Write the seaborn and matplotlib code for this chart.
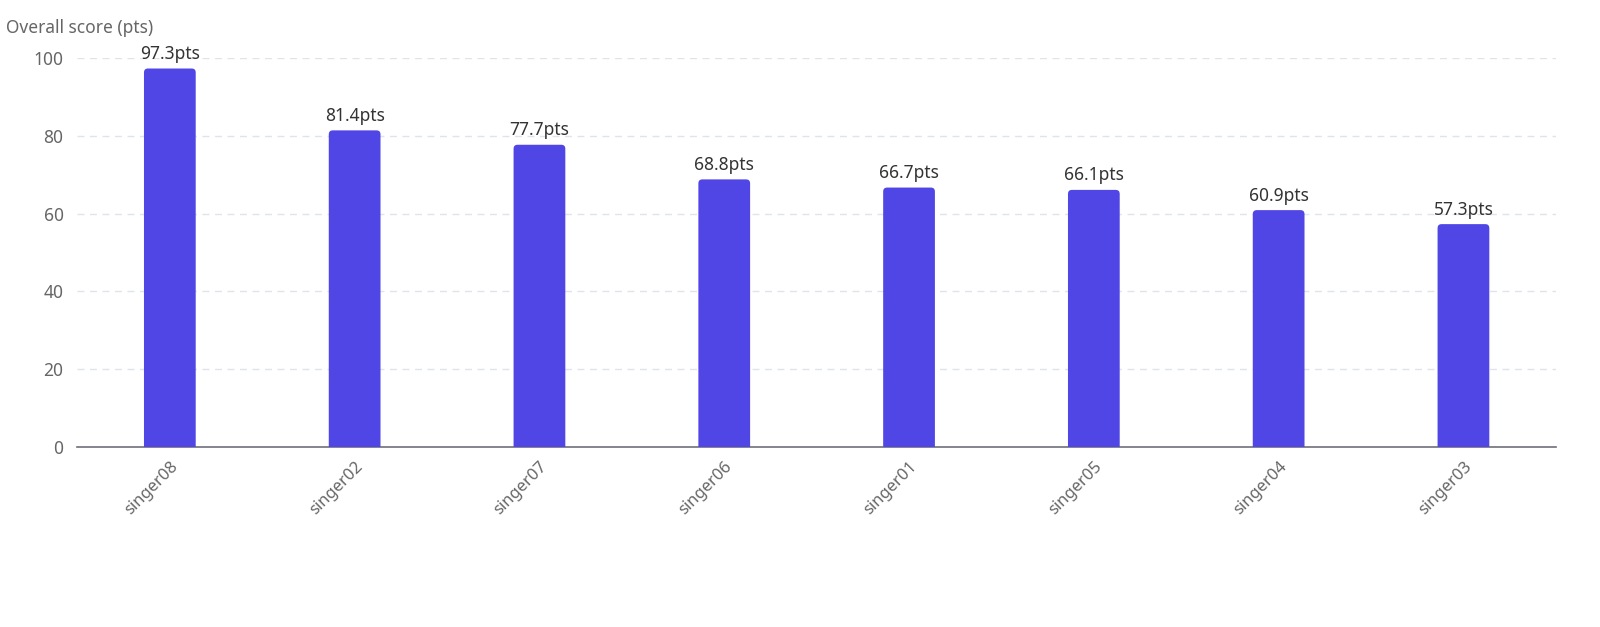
import matplotlib
matplotlib.use("Agg")
import matplotlib.pyplot as plt
import seaborn as sns
import pandas as pd
from matplotlib.patches import FancyBboxPatch

# 데이터
singers = ["singer08", "singer02", "singer07", "singer06",
           "singer01", "singer05", "singer04", "singer03"]
scores = [97.3, 81.4, 77.7, 68.8, 66.7, 66.1, 60.9, 57.3]
y_ticks = [0, 20, 40, 60, 80, 100]

df = pd.DataFrame({"singer": singers, "score": scores})

sns.set_style("white")
plt.rcParams["font.family"] = ["Noto Sans", "DejaVu Sans"]

fig = plt.figure(figsize=(16, 6.27), dpi=100)
ax = fig.add_axes([0.0484, 0.287, 0.924, 0.6205])

sns.barplot(data=df, x="singer", y="score", color="#5046e5", saturation=1,
            width=0.28, ax=ax)

ax.set_xlim(-0.5, len(singers) - 0.5)
ax.set_ylim(0, 100)

# 막대 모서리 둥글게
fig.canvas.draw()
bb = ax.get_window_extent()
xpp = (ax.get_xlim()[1] - ax.get_xlim()[0]) / bb.width
ypp = (ax.get_ylim()[1] - ax.get_ylim()[0]) / bb.height
r = 4 * xpp
for p in list(ax.patches):
    x, w, h = p.get_x(), p.get_width(), p.get_height()
    rb = FancyBboxPatch((x, -r * ypp / xpp), w, h + r * ypp / xpp,
                        boxstyle=f"round,pad=0,rounding_size={r}",
                        mutation_aspect=ypp / xpp,
                        facecolor="#5046e5", edgecolor="none", zorder=3)
    p.remove()
    ax.add_patch(rb)

for i, v in enumerate(scores):
    ax.annotate(f"{v}pts", (i, v), xytext=(0, 4), textcoords="offset points",
                ha="center", va="bottom", fontsize=12.5, color="#333333")

ax.set_yticks(y_ticks)
ax.yaxis.grid(True, linestyle=(0, (5, 4)), color="#e0e3ea", linewidth=1)
ax.set_axisbelow(True)
for s in ["top", "right", "left"]:
    ax.spines[s].set_visible(False)
ax.spines["bottom"].set_color("#6e7079")
ax.spines["bottom"].set_linewidth(1.2)
ax.tick_params(axis="y", length=0, pad=10, labelsize=12.5, labelcolor="#666666")
ax.tick_params(axis="x", length=0, pad=8, labelsize=12, labelcolor="#666666")
plt.setp(ax.get_xticklabels(), rotation=45, ha="right", rotation_mode="anchor")

ax.set_xlabel("")
ax.set_ylabel("")
fig.text(0.004, 0.955, "Overall score (pts)", fontsize=12.5, color="#666666",
         ha="left", va="center")

fig.savefig("out.png", dpi=100)
